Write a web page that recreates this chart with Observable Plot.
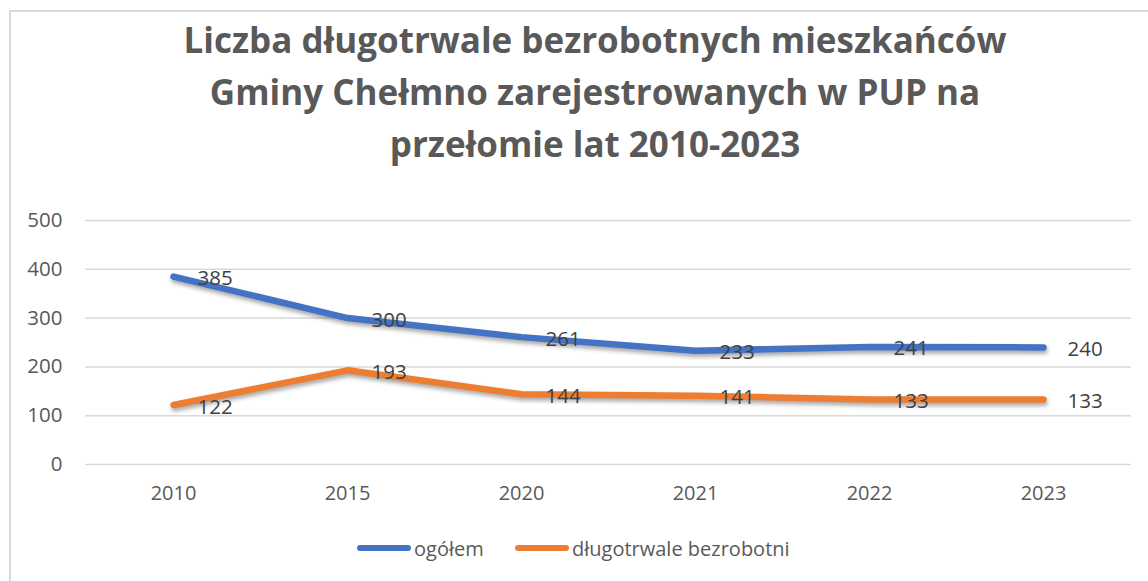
<!DOCTYPE html>
<html>
<head>
<meta charset="utf-8">
<script src="https://cdn.jsdelivr.net/npm/d3@7"></script>
<script src="https://cdn.jsdelivr.net/npm/@observablehq/plot@0.6"></script>
<style>
  html, body { margin: 0; padding: 0; background: #fff; overflow: hidden; }
  body { width: 1148px; height: 581px; position: relative; font-family: "Open Sans", sans-serif; }
  #frame { position: absolute; left: 9px; top: 10px; width: 1200px; height: 700px;
           border-left: 2px solid #d9d9d9; border-top: 2px solid #d9d9d9; }
  #title { position: absolute; left: 0; top: 14px; width: 1190px; text-align: center;
           font-weight: 700; font-size: 35px; line-height: 52px; color: #595959; }
  #chart { position: absolute; left: 0; top: 200px; }
  #legend { position: absolute; top: 534px; left: 0; width: 1148px; height: 28px; }
  .item { position: absolute; top: 0; display: flex; align-items: center; height: 28px;
          font-size: 20px; color: #595959; }
  .sw { width: 54px; height: 6px; border-radius: 3px; margin-right: 3px; }
</style>
</head>
<body>
<div id="frame"></div>
<div id="title">Liczba długotrwale bezrobotnych mieszkańców<br>Gminy Chełmno zarejestrowanych w PUP na<br>przełomie lat 2010-2023</div>
<div id="chart"></div>
<div id="legend"></div>
<script>
const years = ["2010", "2015", "2020", "2021", "2022", "2023"];
const ogolem = [385, 300, 261, 233, 241, 240];
const dlugotrwale = [122, 193, 144, 141, 133, 133];
const seriesNames = ["ogółem", "długotrwale bezrobotni"];
const seriesColors = ["#4472C4", "#ED7D31"];
const yTicks = [0, 100, 200, 300, 400, 500];

const data = [];
years.forEach((y, i) => {
  data.push({year: y, value: ogolem[i], series: seriesNames[0]});
  data.push({year: y, value: dlugotrwale[i], series: seriesNames[1]});
});

const plot = Plot.plot({
  width: 1148,
  height: 309,
  marginLeft: 85,
  marginRight: 17,
  marginTop: 20,
  marginBottom: 45,
  style: {fontFamily: "Open Sans, sans-serif", fontSize: "20px", color: "#595959", background: "transparent", overflow: "visible"},
  x: {type: "point", domain: years, padding: 0.5, label: null, tickSize: 0, tickPadding: 21},
  y: {domain: [0, 500], ticks: yTicks, label: null, tickSize: 0, tickPadding: 23},
  color: {domain: seriesNames, range: seriesColors},
  marks: [
    Plot.ruleY(yTicks, {stroke: "#d9d9d9", strokeWidth: 1.5}),
    Plot.axisY({ticks: yTicks, tickSize: 0, tickPadding: 23, label: null, fill: "#595959", fontSize: 20.5}),
    Plot.axisX({tickSize: 0, tickPadding: 21, label: null, fill: "#595959", fontSize: 20}),
    Plot.line(data, {x: "year", y: "value", z: "series", stroke: "series", strokeWidth: 6.5,
      strokeLinecap: "round", strokeLinejoin: "round"}),
    Plot.text(data, {x: "year", y: "value", text: d => String(d.value), dx: 24, dy: 2,
      textAnchor: "start", fill: "#404040", fontSize: 20.5})
  ]
});
document.getElementById("chart").appendChild(plot);
plot.querySelectorAll('g[aria-label="line"] path').forEach(p => {
  p.style.filter = "drop-shadow(1px 3px 2px rgba(0,0,0,0.35))";
});

const legend = document.getElementById("legend");
const lefts = [357, 515];
seriesNames.forEach((name, i) => {
  const it = document.createElement("div");
  it.className = "item";
  it.style.left = lefts[i] + "px";
  const sw = document.createElement("div");
  sw.className = "sw";
  sw.style.background = seriesColors[i];
  const t = document.createElement("span");
  t.textContent = name;
  it.appendChild(sw);
  it.appendChild(t);
  legend.appendChild(it);
});
</script>
</body>
</html>
